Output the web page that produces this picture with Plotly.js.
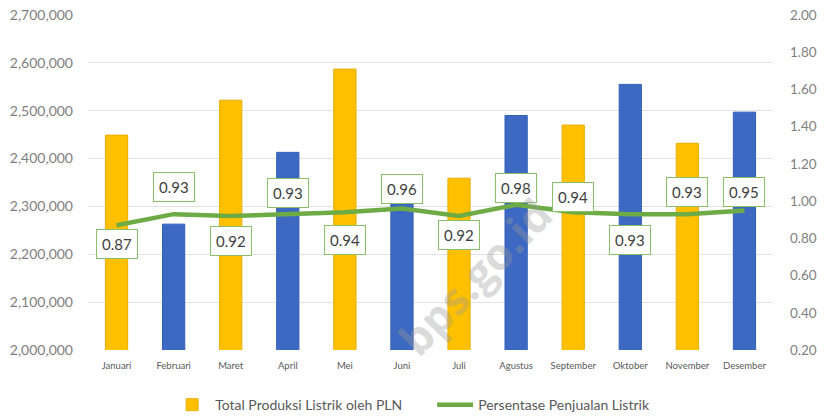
<!DOCTYPE html>
<html>
<head>
<meta charset="utf-8">
<script src="https://cdn.plot.ly/plotly-3.0.1.min.js"></script>
<style>html,body{margin:0;padding:0;background:#fff;}#chart{width:825px;height:418px;}</style>
</head>
<body>
<div id="chart"></div>
<script>
var months = ["Januari","Februari","Maret","April","Mei","Juni","Juli","Agustus","September","Oktober","November","Desember"];
var produksi = [2449000, 2263000, 2522000, 2413000, 2587000, 2305000, 2359000, 2490000, 2470000, 2555000, 2432000, 2497000];
var persentase = [0.87, 0.93, 0.92, 0.93, 0.94, 0.96, 0.92, 0.98, 0.94, 0.93, 0.93, 0.95];
var labelShift = [-19, 27, -25, 21, -28, 20, -19, 17, 15, -26, 22, 18];

var barColors = months.map(function(m, i){ return i % 2 === 0 ? "#FFC000" : "#3E69C2"; });
var barLines = months.map(function(m, i){ return i % 2 === 0 ? "#E8AE00" : "#3560B8"; });

var FONT = "Lato, 'Open Sans', sans-serif";

var traces = [
  {
    type: "bar", x: months, y: produksi, name: "Total Produksi Listrik oleh PLN",
    marker: {color: barColors, line: {color: barLines, width: 1}},
    width: 0.39, yaxis: "y", hoverinfo: "x+y"
  },
  {
    type: "scatter", mode: "lines", x: months, y: persentase, name: "Persentase Penjualan Listrik",
    line: {color: "#6DAB45", width: 4.5}, yaxis: "y2"
  }
];

var annotations = months.map(function(m, i){
  return {
    x: m, y: persentase[i], xref: "x", yref: "y2", yshift: labelShift[i],
    text: persentase[i].toFixed(2), showarrow: false,
    font: {family: FONT, size: 15, color: "#404040"},
    bgcolor: "#ffffff", bordercolor: "#8BBF6A", borderwidth: 1, borderpad: 5
  };
});
annotations.push({
  x: 0.565, y: 0.22, xref: "paper", yref: "paper", xanchor: "center", yanchor: "middle",
  text: "<b>bps.go.id</b>",
  showarrow: false, textangle: -46, opacity: 0.35,
  font: {family: "'Open Sans', sans-serif", size: 44, color: "#9a9a9a"}
});

var layout = {
  width: 825, height: 418,
  margin: {l: 88, r: 52, t: 15, b: 68},
  paper_bgcolor: "#ffffff", plot_bgcolor: "#ffffff",
  showlegend: true,
  legend: {orientation: "h", x: 0.205, xref: "container", xanchor: "left",
    y: 0.031, yref: "container", yanchor: "middle", entrywidth: 212, entrywidthmode: "pixels",
    font: {family: FONT, size: 14, color: "#595959"}, traceorder: "normal", itemwidth: 36},
  bargap: 0.61,
  xaxis: {
    type: "category", tickfont: {family: FONT, size: 9.5, color: "#595959"},
    showgrid: false, showline: false, zeroline: false, ticks: "", automargin: false,
    ticklabelstandoff: 8
  },
  yaxis: {
    range: [2000000, 2700000], dtick: 100000, tickformat: ",",
    tickfont: {family: FONT, size: 14, color: "#7f7f7f"},
    showgrid: true, gridcolor: "#e3e3e3", gridwidth: 1, zeroline: false, showline: false,
    ticks: "", ticklabelstandoff: 14, automargin: false
  },
  yaxis2: {
    overlaying: "y", side: "right", range: [0.2, 2.0], dtick: 0.2, tickformat: ".2f",
    tickfont: {family: FONT, size: 13.5, color: "#7f7f7f"},
    showgrid: false, zeroline: false, showline: false, ticks: "", ticklabelstandoff: 16, automargin: false
  },
  annotations: annotations,
  font: {family: FONT}
};

Plotly.newPlot("chart", traces, layout, {displayModeBar: false, staticPlot: true});
</script>
</body>
</html>
